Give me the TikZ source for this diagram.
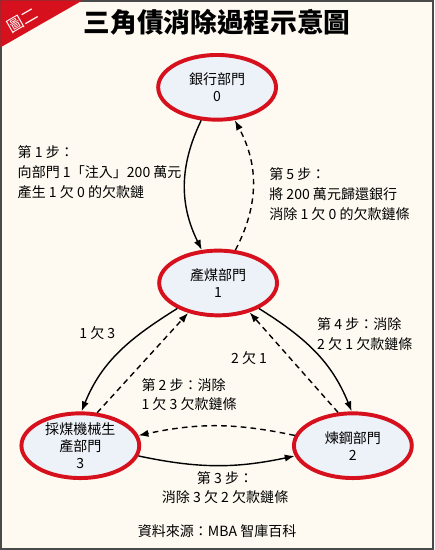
\documentclass[tikz,border=0pt]{standalone}
\usepackage{fontspec}
\setmainfont{Noto Sans CJK TC}
\usetikzlibrary{shapes.geometric,arrows.meta,shadows}
\definecolor{paper}{HTML}{FEFAF1}
\definecolor{bandred}{HTML}{D6101C}
\definecolor{nodefill}{HTML}{EDF2F9}
\definecolor{framegray}{HTML}{4A4A4A}
\begin{document}
\begin{tikzpicture}[x=0.025cm, y=0.025cm,
    dept/.style={ellipse, draw=bandred, line width=2.8pt, fill=nodefill,
      minimum width=2.95cm, minimum height=1.62cm, inner sep=0pt, align=center,
      font=\fontsize{10}{12}\selectfont,
      drop shadow={opacity=0.25, shadow xshift=0.6pt, shadow yshift=-0.8pt}},
    debt/.style={-{Latex[length=2.5mm,width=1.8mm]}, line width=1pt},
    clearing/.style={debt, dash pattern=on 4pt off 3pt},
    note/.style={align=left, font=\fontsize{10}{14}\selectfont, inner sep=0pt}]
  \fill[paper] (0,0) rectangle (434,550);
  \draw[framegray, line width=1.4pt] (0.5,0.5) rectangle (433.5,549.5);
  \fill[bandred] (0,550) -- (82,550) -- (0,503) -- cycle;
  \node[white, rotate=30, font=\fontsize{11.5}{12}\selectfont, inner sep=0pt] (tag) at (22,530) {圖二};
  \node[font=\fontsize{19}{22}\selectfont\bfseries] (title) at (217,528) {三角債消除過程示意圖};
  \node[dept] (n0) at (217,463) {銀行部門\\0};
  \node[dept] (n1) at (218,267) {產煤部門\\1};
  \node[dept] (n3) at (80,104)  {採煤機械生\\產部門\\3};
  \node[dept] (n2) at (353,104) {煉鋼部門\\2};
  \draw[debt] (n0) to[bend right=26] (n1);
  \draw[clearing] (n1) to[bend right=28] (n0);
  \draw[debt] (n1.212) to[out=212, in=68] (n3.88);
  \draw[clearing] (n3.63) -- (n1.225);
  \draw[debt] (n1.328) to[out=328, in=112] (n2.92);
  \draw[clearing] (n2.114) -- (n1.317);
  \draw[debt] (n3.350) to[bend right=12] (n2.190);
  \draw[clearing] (n2.170) to[bend right=12] (n3.10);
  \node[note, anchor=west] (s1) at (17,378) {第 1 步：\\向部門 1「注入」200 萬元\\產生 1 欠 0 的欠款鏈};
  \node[note, anchor=west] (s5) at (269,356) {第 5 步：\\將 200 萬元歸還銀行\\消除 1 欠 0 的欠款鏈條};
  \node[note] (d13) at (97,217) {1 欠 3};
  \node[note, anchor=west] (s2) at (141,155) {第 2 步：消除\\1 欠 3 欠款鏈條};
  \node[note] (d21) at (249,192) {2 欠 1};
  \node[note, anchor=west] (s4) at (317,216) {第 4 步：消除\\2 欠 1 欠款鏈條};
  \node[note, align=center] (s3) at (225,62) {第 3 步：\\消除 3 欠 2 欠款鏈條};
  \node[note] (src) at (217,18) {資料來源：MBA 智庫百科};
\end{tikzpicture}
\end{document}
